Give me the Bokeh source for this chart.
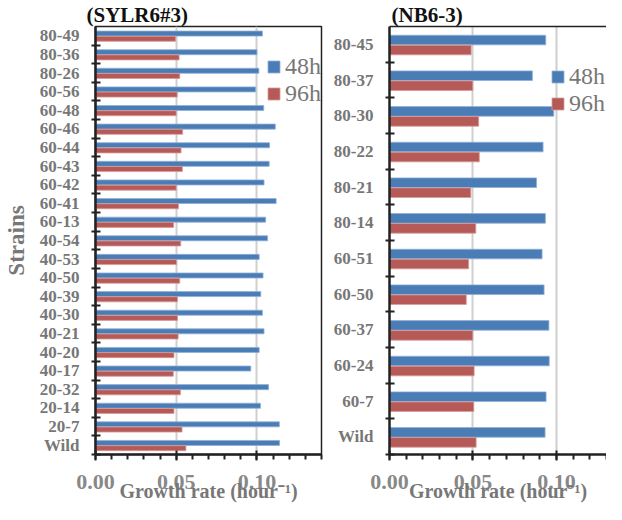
from bokeh.plotting import figure
from bokeh.models import FixedTicker, LinearAxis, Range1d, NumeralTickFormatter
from bokeh.layouts import row
from bokeh.embed import file_html
from bokeh.resources import INLINE

# ---- data ----
left_title = "(SYLR6#3)"
left_strains = ["80-49", "80-36", "80-26", "60-56", "60-48", "60-46", "60-44", "60-43",
                "60-42", "60-41", "60-13", "40-54", "40-53", "40-50", "40-39", "40-30",
                "40-21", "40-20", "40-17", "20-32", "20-14", "20-7", "Wild"]
left_48h = [0.1034, 0.1000, 0.1012, 0.0992, 0.1042, 0.1114, 0.1078, 0.1076,
            0.1044, 0.1119, 0.1054, 0.1066, 0.1014, 0.1038, 0.1024, 0.1034,
            0.1044, 0.1014, 0.0962, 0.1072, 0.1022, 0.1139, 0.1140]
left_96h = [0.0496, 0.0518, 0.0522, 0.0506, 0.0500, 0.0540, 0.0530, 0.0538,
            0.0500, 0.0514, 0.0484, 0.0528, 0.0502, 0.0522, 0.0508, 0.0508,
            0.0512, 0.0486, 0.0482, 0.0526, 0.0486, 0.0536, 0.0560]

right_title = "(NB6-3)"
right_strains = ["80-45", "80-37", "80-30", "80-22", "80-21", "80-14",
                 "60-51", "60-50", "60-37", "60-24", "60-7", "Wild"]
right_48h = [0.0936, 0.0856, 0.0984, 0.0920, 0.0881, 0.0934,
             0.0914, 0.0926, 0.0955, 0.0957, 0.0938, 0.0932]
right_96h = [0.0489, 0.0499, 0.0534, 0.0538, 0.0487, 0.0517,
             0.0474, 0.0460, 0.0499, 0.0507, 0.0505, 0.0519]

series_names = ["48h", "96h"]
x_major = [0.0, 0.05, 0.10]
x_label = "Growth rate (hour\u207b\u00b9)"
y_label = "Strains"

BLUE = "#4a7db5"
RED = "#b65a58"
FONT = "Liberation Serif"
GREY = "#777777"


def panel(cats, v48, v96, title, x_end, width, mbl, mbr, legend_xy, legend_spacing,
          ylabel, boxed, title_offset):
    n = len(cats)
    centers = [n - i - 0.5 for i in range(n)]
    p = figure(width=width, height=504, x_range=Range1d(0, x_end), y_range=Range1d(0, n),
               output_backend="svg", toolbar_location=None,
               min_border_left=mbl, min_border_right=mbr, min_border_top=0,
               min_border_bottom=0, title=title)
    p.background_fill_color = "white"
    p.border_fill_color = "white"

    p.hbar(y=[c + 0.12 for c in centers], left=0, right=v48, height=0.27,
           fill_color=BLUE, line_color="#8fb0d8", line_width=0.8, legend_label=series_names[0])
    p.hbar(y=[c - 0.16 for c in centers], left=0, right=v96, height=0.27,
           fill_color=RED, line_color="#d69a98", line_width=0.8, legend_label=series_names[1])

    # title
    p.title.text_font = FONT
    p.title.text_font_size = "21px"
    p.title.text_font_style = "bold"
    p.title.text_color = "#111111"
    p.title.standoff = 0
    p.title.offset = title_offset

    # y axis
    ya = p.yaxis[0]
    ya.ticker = FixedTicker(ticks=centers, minor_ticks=list(range(0, n)))
    ya.major_label_overrides = {c: lab for c, lab in zip(centers, cats)}
    ya.major_tick_line_color = None
    ya.minor_tick_line_color = "#222222"
    ya.minor_tick_line_width = 2
    ya.minor_tick_in = 5
    ya.minor_tick_out = 4
    ya.axis_line_width = 2.5
    ya.axis_line_color = "#222222"
    ya.major_label_text_font = FONT
    ya.major_label_text_font_size = "17px"
    ya.major_label_text_font_style = "bold"
    ya.major_label_text_color = GREY
    ya.major_label_standoff = 10
    if ylabel:
        ya.axis_label = ylabel
        ya.axis_label_text_font = FONT
        ya.axis_label_text_font_size = "23px"
        ya.axis_label_text_font_style = "bold"
        ya.axis_label_text_color = GREY
        ya.axis_label_standoff = 8

    # x axis
    xa = p.xaxis[0]
    xa.ticker = FixedTicker(ticks=x_major, minor_ticks=[i / 100 for i in range(0, 15)])
    xa.formatter = NumeralTickFormatter(format="0.00")
    xa.major_tick_in = 4
    xa.major_tick_out = 6
    xa.major_tick_line_width = 2
    xa.major_tick_line_color = "#222222"
    xa.minor_tick_in = 0
    xa.minor_tick_out = 5
    xa.minor_tick_line_width = 2
    xa.minor_tick_line_color = "#222222"
    xa.axis_line_width = 2.5
    xa.axis_line_color = "#222222"
    xa.major_label_text_font = FONT
    xa.major_label_text_font_size = "22px"
    xa.major_label_text_font_style = "bold"
    xa.major_label_text_color = "#888888"
    xa.major_label_text_line_height = 1.0
    xa.major_label_standoff = 14
    xa.axis_label = x_label
    xa.axis_label_text_font = FONT
    xa.axis_label_text_font_size = "20px"
    xa.axis_label_text_font_style = "bold"
    xa.axis_label_text_color = GREY
    xa.axis_label_text_line_height = 1.0
    xa.axis_label_standoff = -12

    # grid
    p.xgrid.ticker = FixedTicker(ticks=[0.05, 0.10])
    p.xgrid.grid_line_color = "#cfcfcf"
    p.xgrid.grid_line_width = 2
    p.ygrid.visible = False

    if boxed:
        p.outline_line_color = "#222222"
        p.outline_line_width = 1.5
        p.outline_line_alpha = 1
    else:
        p.outline_line_color = None
        top = LinearAxis(ticker=FixedTicker(ticks=[]), major_label_text_font_size="0px",
                         major_tick_in=0, major_tick_out=0, minor_tick_in=0, minor_tick_out=0,
                         major_label_standoff=0, axis_line_color="#222222", axis_line_width=1.5)
        p.add_layout(top, "above")

    lg = p.legend[0]
    lg.location = legend_xy
    lg.border_line_color = None
    lg.background_fill_alpha = 0
    lg.padding = 0
    lg.margin = 0
    lg.glyph_width = 15
    lg.glyph_height = 15
    lg.label_height = 15
    lg.label_standoff = 4
    lg.spacing = legend_spacing
    lg.label_text_font = FONT
    lg.label_text_font_size = "24px"
    lg.label_text_color = GREY
    return p


p1 = panel(left_strains, left_48h, left_96h, left_title, 0.14, 330, 89, 9,
           (171, 347), 0, y_label, True, -9)
p2 = panel(right_strains, right_48h, right_96h, right_title, 0.13, 276, 55, 0,
           (161, 337), -3, None, False, 2)

layout = row(p1, p2)
open("out.html", "w").write(file_html(layout, INLINE))
